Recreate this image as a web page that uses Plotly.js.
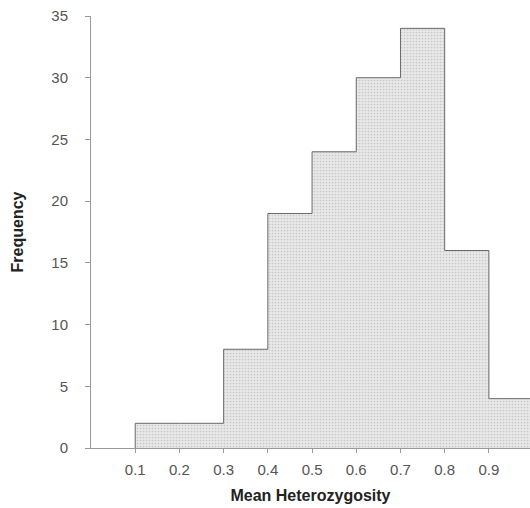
<!DOCTYPE html>
<html>
<head>
<meta charset="utf-8">
<script src="https://cdn.plot.ly/plotly-3.0.1.min.js"></script>
<style>html,body{margin:0;padding:0;background:#fff;}#chart{width:530px;height:508px;}</style>
</head>
<body>
<div id="chart"></div>
<script>
// Histogram of mean heterozygosity (bin width 0.1)
const binLefts = [0.1, 0.2, 0.3, 0.4, 0.5, 0.6, 0.7, 0.8, 0.9];
const counts   = [2, 2, 8, 19, 24, 30, 34, 16, 4];
const binWidth = 0.1;
const xTickVals = [0.1, 0.2, 0.3, 0.4, 0.5, 0.6, 0.7, 0.8, 0.9];
const xTickText = ["0.1", "0.2", "0.3", "0.4", "0.5", "0.6", "0.7", "0.8", "0.9"];
const yTickVals = [0, 5, 10, 15, 20, 25, 30, 35];

const centers = binLefts.map(l => l + binWidth / 2);

// outline of the histogram silhouette built from the same bins
const ox = [binLefts[0]];
const oy = [0];
binLefts.forEach((l, i) => { ox.push(l); oy.push(counts[i]); });
ox.push(binLefts[binLefts.length - 1] + binWidth); oy.push(counts[counts.length - 1]);
ox.push(binLefts[binLefts.length - 1] + binWidth); oy.push(0);

const bars = {
  type: 'bar', x: centers, y: counts, width: binWidth,
  marker: {color: '#e3e3e3', line: {width: 0},
           pattern: {shape: '.', size: 3, solidity: 0.25, fgcolor: '#c8c8c8', bgcolor: '#e8e8e8'}},
  hoverinfo: 'x+y', showlegend: false
};
const outline = {
  type: 'scatter', mode: 'lines', x: ox, y: oy,
  line: {shape: 'hv', color: '#6a6a6a', width: 1},
  hoverinfo: 'skip', showlegend: false
};

const font = {family: 'Liberation Sans, Arial, sans-serif'};
const layout = {
  width: 530, height: 508,
  margin: {l: 91, r: 0, t: 16, b: 60},
  paper_bgcolor: '#fff', plot_bgcolor: '#fff',
  bargap: 0,
  font: font,
  xaxis: {
    range: [0, 0.993], tickmode: 'array', tickvals: xTickVals, ticktext: xTickText,
    showgrid: false, zeroline: false, showline: true, linecolor: '#999', linewidth: 1,
    ticks: 'outside', ticklen: 4, tickcolor: '#999', ticklabelstandoff: 4,
    tickfont: {size: 15, color: '#555', family: font.family},
    title: {text: 'Mean Heterozygosity', font: {size: 16, color: '#222', family: font.family, weight: 'bold'}, standoff: 12}
  },
  yaxis: {
    range: [0, 35], tickmode: 'array', tickvals: yTickVals,
    showgrid: false, zeroline: false, showline: true, linecolor: '#999', linewidth: 1,
    ticks: 'outside', ticklen: 5, tickcolor: '#999', ticklabelstandoff: 14,
    tickfont: {size: 15, color: '#555', family: font.family},
    title: {text: 'Frequency', font: {size: 16, color: '#222', family: font.family, weight: 'bold'}, standoff: 23}
  }
};
Plotly.newPlot('chart', [bars, outline], layout, {displayModeBar: false, staticPlot: true});
</script>
</body>
</html>
